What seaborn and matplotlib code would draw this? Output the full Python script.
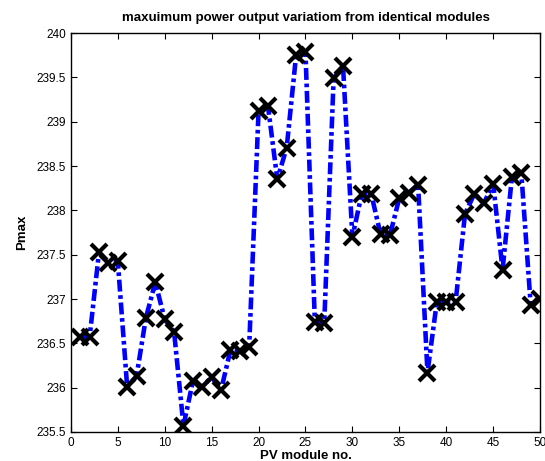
import matplotlib
matplotlib.use("Agg")
import matplotlib.pyplot as plt
import seaborn as sns
import pandas as pd

module_no = list(range(1, 51))
pmax = [236.57, 236.57, 237.53, 237.41, 237.43, 236.01, 236.13, 236.79, 237.19, 236.77,
        236.63, 235.57, 236.07, 236.01, 236.12, 235.97, 236.42, 236.41, 236.46, 239.12,
        239.18, 238.35, 238.71, 239.75, 239.79, 236.74, 236.73, 239.49, 239.63, 237.70,
        238.19, 238.19, 237.73, 237.72, 238.14, 238.20, 238.29, 236.17, 236.97, 236.97,
        236.97, 237.96, 238.19, 238.08, 238.30, 237.33, 238.38, 238.42, 236.93, 237.00]

xticks = list(range(0, 51, 5))
yticks = [235.5, 236, 236.5, 237, 237.5, 238, 238.5, 239, 239.5, 240]
yticklabels = ["235.5", "236", "236.5", "237", "237.5", "238", "238.5", "239", "239.5", "240"]

sns.set_style("ticks")
plt.rcParams['font.family'] = ['Liberation Sans', 'DejaVu Sans']
plt.rcParams['text.color'] = 'black'
plt.rcParams['axes.labelcolor'] = 'black'
plt.rcParams['xtick.color'] = 'black'
plt.rcParams['ytick.color'] = 'black'

df = pd.DataFrame({"PV module no.": module_no, "Pmax": pmax})

fig = plt.figure(figsize=(5.45, 4.61), dpi=100)
ax = fig.add_axes([0.130, 0.063, 0.861, 0.865])

sns.lineplot(data=df, x="PV module no.", y="Pmax", ax=ax, color="blue",
             linewidth=3.3, linestyle=(0, (2.6, 0.8, 0.8, 0.8)), marker="x", markersize=11,
             markeredgewidth=3, markeredgecolor="black", markerfacecolor="black")

ax.set_xlim(0, 50)
ax.set_ylim(235.5, 240)
ax.set_xticks(xticks)
ax.set_yticks(yticks)
ax.set_yticklabels(yticklabels)
ax.tick_params(direction="in", top=True, right=True, labelsize=8.5, length=4, width=0.8,
               colors="black")
for s in ax.spines.values():
    s.set_visible(True)
    s.set_linewidth(1.0)
    s.set_color("black")

ax.set_xlabel("PV module no.", fontsize=9.5, fontweight="bold", labelpad=1, color="black")
ax.set_ylabel("Pmax", fontsize=9.5, fontweight="bold", labelpad=6, color="black")
ax.set_title("maxuimum power output variatiom from identical modules",
             fontsize=9.5, fontweight="bold", pad=9, color="black")

fig.savefig("out.png", dpi=100)
